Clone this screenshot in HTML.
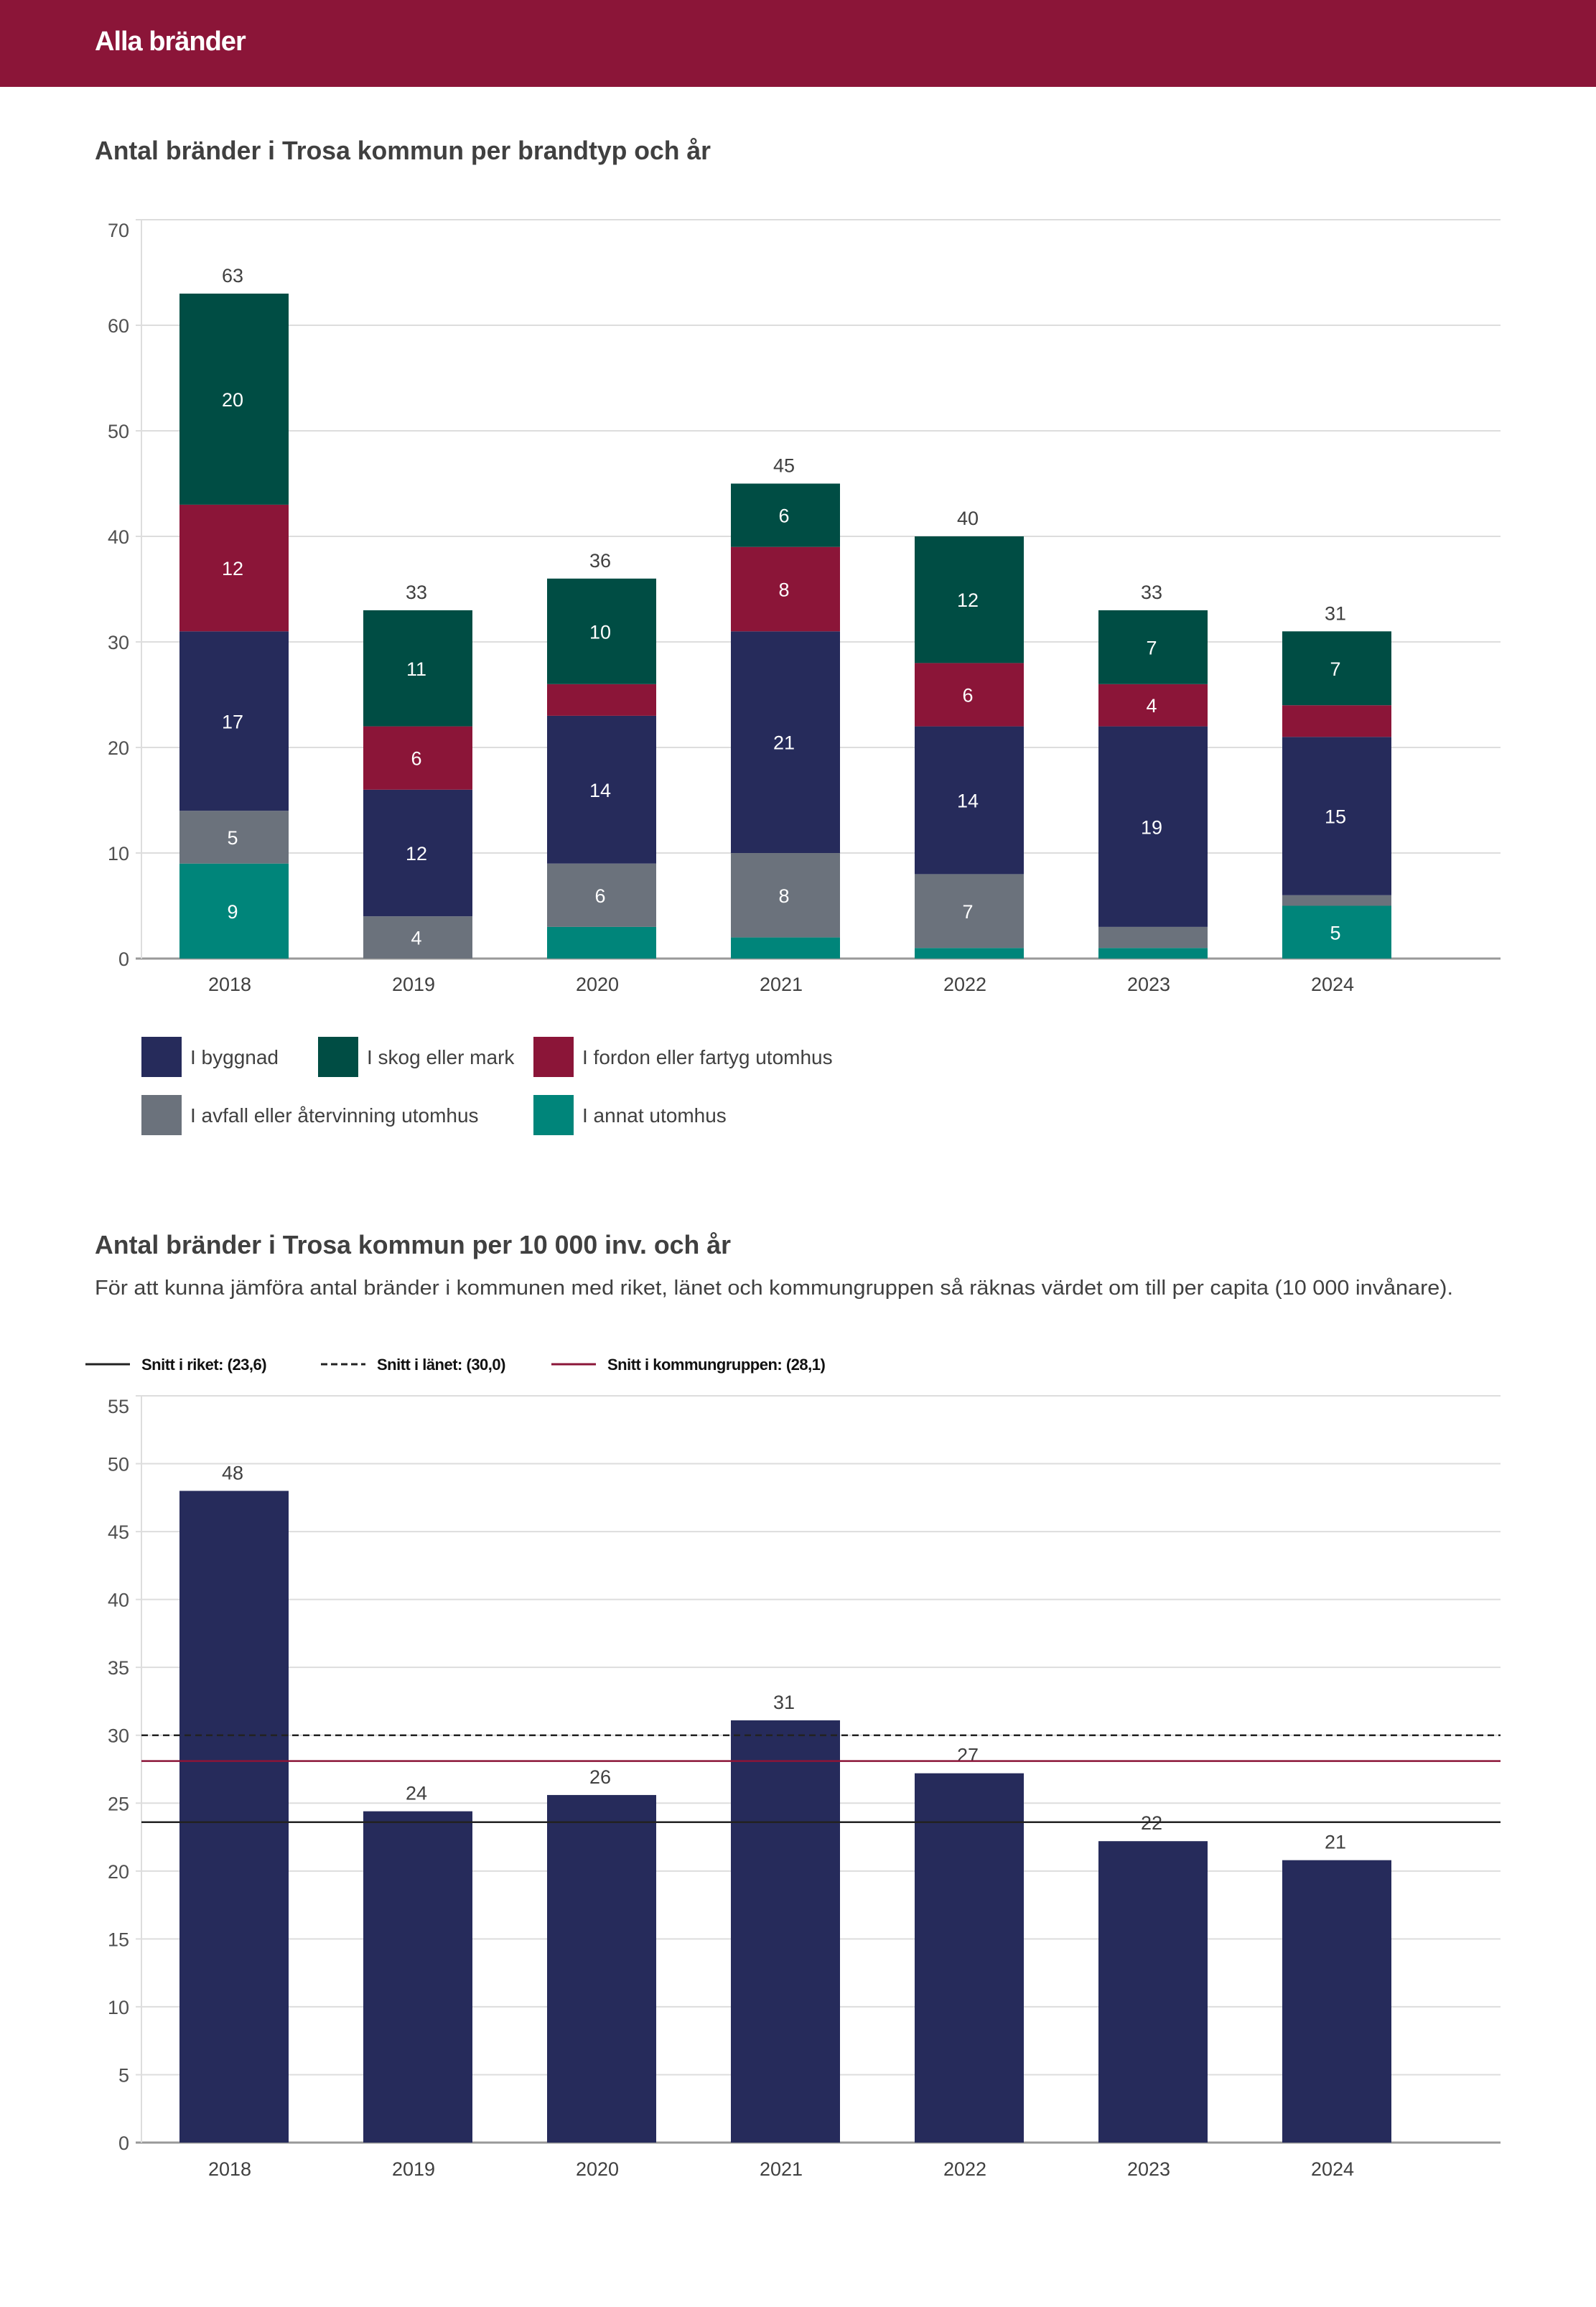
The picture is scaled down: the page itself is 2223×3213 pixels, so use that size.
<!DOCTYPE html>
<html><head><meta charset="utf-8"><style>
html,body{margin:0;padding:0;background:#fff;}
svg{display:block;font-family:"Liberation Sans",sans-serif;}
</style></head><body>
<svg id="s" width="2223" height="3213" viewBox="0 0 2223 3213" xmlns="http://www.w3.org/2000/svg">
<rect x="0" y="0" width="2223" height="121" fill="#8b1538"/>
<text x="132" y="70" font-size="38" font-weight="bold" fill="#fff" letter-spacing="-1">Alla bränder</text>
<text x="132" y="222" font-size="36" font-weight="bold" fill="#404040" textLength="858" lengthAdjust="spacingAndGlyphs">Antal bränder i Trosa kommun per brandtyp och år</text>
<g id="c1"></g>
<g id="legend1"></g>
<text x="132" y="1746" font-size="36" font-weight="bold" fill="#404040" textLength="886" lengthAdjust="spacingAndGlyphs">Antal bränder i Trosa kommun per 10 000 inv. och år</text>
<text x="132" y="1803" font-size="29" fill="#404040" textLength="1892" lengthAdjust="spacingAndGlyphs">För att kunna jämföra antal bränder i kommunen med riket, länet och kommungruppen så räknas värdet om till per capita (10 000 invånare).</text>
<g id="legend2"></g>
<g id="c2"></g>
</svg>
<script>
const years=["2018","2019","2020","2021","2022","2023","2024"];
const annat=[9,0,3,2,1,1,5];
const avfall=[5,4,6,8,7,2,1];
const byggnad=[17,12,14,21,14,19,15];
const fordon=[12,6,3,8,6,4,3];
const skog=[20,11,10,6,12,7,7];
const ticks1=[0,10,20,30,40,50,60,70];
const perCapita=[48.0,24.4,25.6,31.1,27.2,22.2,20.8];
const perCapitaLabels=["48","24","26","31","27","22","21"];
const ticks2=[0,5,10,15,20,25,30,35,40,45,50,55];
const avgRiket=23.6, avgLanet=30.0, avgGrupp=28.1;

const NS="http://www.w3.org/2000/svg";
function mk(tag,attrs,parent,txt){const e=document.createElementNS(NS,tag);for(const k in attrs)e.setAttribute(k,attrs[k]);if(txt!==undefined)e.textContent=txt;parent.appendChild(e);return e;}
const X0=197,X1=2090,BAND=256,BW=152;
function xc(i){return 326+i*BAND;}

// chart 1
const c1=document.getElementById('c1');
const Y0a=1335,Y1a=306,maxA=70;
function ya(v){return Y0a-(v/maxA)*(Y0a-Y1a);}
ticks1.forEach(t=>{
 const g=mk('line',{x1:X0-8,x2:X1,y1:ya(t),y2:ya(t),stroke:t===0?'#999':'#ddd','stroke-width':t===0?3:2},c1);
 
 const l=mk('text',{x:180,y:ya(t)+10+(t===70?14:0),'font-size':27,fill:'#505050','text-anchor':'end'},c1,String(t));
 
});
const ax1=mk('line',{x1:X0,x2:X0,y1:Y1a,y2:Y0a,stroke:'#ddd','stroke-width':2},c1);

const series=[["annat",annat,"#00857a"],["avfall",avfall,"#6b727c"],["byggnad",byggnad,"#262b5b"],["fordon",fordon,"#8b1538"],["skog",skog,"#004d44"]];
years.forEach((y,i)=>{
 let acc=0;
 series.forEach(([n,arr,col])=>{
  const v=arr[i];if(v<=0)return;
  const r=mk('rect',{x:xc(i)-BW/2,y:ya(acc+v),width:BW,height:ya(acc)-ya(acc+v),fill:col},c1);
  
  if(v>=4){const t=mk('text',{x:xc(i)-2,y:(ya(acc)+ya(acc+v))/2+10,'font-size':27,fill:'#fff','text-anchor':'middle'},c1,String(v));
  }
  acc+=v;
 });
 const tl=mk('text',{x:xc(i)-2,y:ya(acc)-16,'font-size':27,fill:'#404040','text-anchor':'middle'},c1,String(acc));
 
 const xl=mk('text',{x:xc(i)-6,y:1380,'font-size':27,fill:'#404040','text-anchor':'middle'},c1,y);
 
});
// legend 1
const lg=document.getElementById('legend1');
[["I byggnad","#262b5b",197,1444],["I skog eller mark","#004d44",443,1444],["I fordon eller fartyg utomhus","#8b1538",743,1444],["I avfall eller återvinning utomhus","#6b727c",197,1525],["I annat utomhus","#00857a",743,1525]].forEach(([t,c,x,y])=>{
 const r=mk('rect',{x:x,y:y,width:56,height:56,fill:c},lg);
 
 const tx=mk('text',{x:x+68,y:y+38,'font-size':28,fill:'#404040'},lg,t);
 
});
// legend 2
const lg2=document.getElementById('legend2');
[["Snitt i riket: (23,6)",119,'#222',''],["Snitt i länet: (30,0)",447,'#222','9 5'],["Snitt i kommungruppen: (28,1)",768,'#8b1538','']].forEach(([t,x,c,d])=>{
 const l=mk('line',{x1:x,x2:x+62,y1:1900,y2:1900,stroke:c,'stroke-width':3,'stroke-dasharray':d},lg2);
 
 const tx=mk('text',{x:x+78,y:1908,'font-size':22,'font-weight':'bold',fill:'#111','letter-spacing':'-0.5'},lg2,t);
 
});
// chart 2
const c2=document.getElementById('c2');
const Y0b=2984,Y1b=1944,maxB=55;
function yb(v){return Y0b-(v/maxB)*(Y0b-Y1b);}
ticks2.forEach(t=>{
 const g=mk('line',{x1:X0-8,x2:X1,y1:yb(t),y2:yb(t),stroke:t===0?'#999':'#ddd','stroke-width':t===0?3:2},c2);
 
 const l=mk('text',{x:180,y:yb(t)+10+(t===55?14:0),'font-size':27,fill:'#505050','text-anchor':'end'},c2,String(t));
 
});
const ax2=mk('line',{x1:X0,x2:X0,y1:Y1b,y2:Y0b,stroke:'#ddd','stroke-width':2},c2);

years.forEach((y,i)=>{
 const v=perCapita[i];
 const r=mk('rect',{x:xc(i)-BW/2,y:yb(v),width:BW,height:yb(0)-yb(v),fill:'#262b5b'},c2);
 
 const tl=mk('text',{x:xc(i)-2,y:yb(v)-16,'font-size':27,fill:'#404040','text-anchor':'middle'},c2,perCapitaLabels[i]);
 
 const xl=mk('text',{x:xc(i)-6,y:3030,'font-size':27,fill:'#404040','text-anchor':'middle'},c2,y);
 
});
[[avgRiket,'#222','','riket-line'],[avgLanet,'#222','9 6','lanet-line'],[avgGrupp,'#8b1538','','kommungrupp-line']].forEach(([v,c,d,n])=>{
 const l=mk('line',{x1:X0,x2:X1,y1:yb(v),y2:yb(v),stroke:c,'stroke-width':2.5,'stroke-dasharray':d},c2);
 
});
</script>
</body></html>
